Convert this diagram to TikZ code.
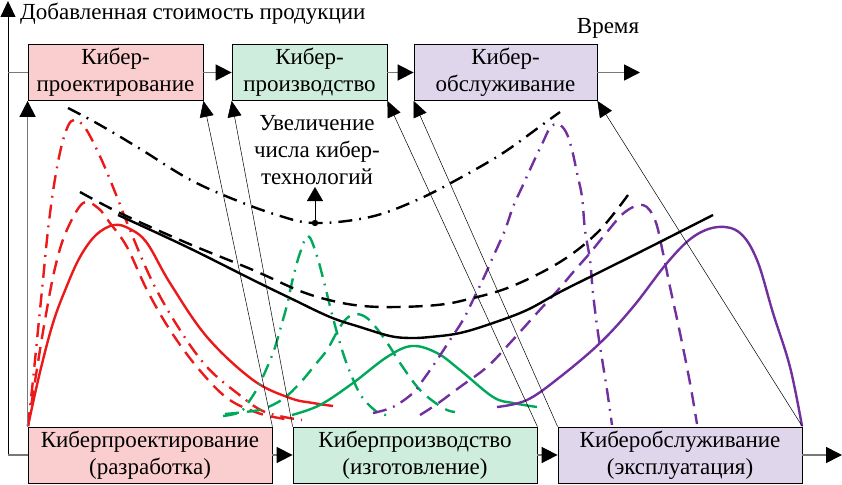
\documentclass[tikz,border=0pt]{standalone}
\usepackage{fontspec}
\setmainfont{Liberation Serif}
\newfontfamily\tnr{Liberation Serif}
\usetikzlibrary{arrows.meta}
\definecolor{cred}{RGB}{235,25,25}
\definecolor{cgreen}{RGB}{0,168,90}
\definecolor{cpurple}{RGB}{112,48,160}
\definecolor{fpink}{RGB}{250,206,206}
\definecolor{fgreen}{RGB}{206,237,221}
\definecolor{flav}{RGB}{223,214,236}
\definecolor{cgray}{RGB}{120,120,120}
\tikzset{
 box/.style={draw=black, line width=0.8pt, align=center, inner sep=0pt, minimum height=56pt, font=\tnr\fontsize{23}{27}\selectfont},
 txt/.style={inner sep=0pt, align=center, font=\tnr\fontsize{23}{27}\selectfont},
 graycon/.style={draw=cgray, line width=1.6pt},
 grayarrow/.style={graycon, -{Triangle[length=16pt,width=16pt,color=black,fill=black]}},
 slimarrow/.style={draw=black, line width=0.5pt, -{Triangle[length=16pt,width=14pt]}},
 crv/.style={line width=2.4pt, line join=round},
 dsh/.style={dash pattern=on 14pt off 8pt},
 dshdot/.style={dash pattern=on 14pt off 7pt on 1.8pt off 7pt},
}
\begin{document}
\begin{tikzpicture}[x=1pt,y=-1pt]
\useasboundingbox (0,0) rectangle (842,484);

% ---------- curves ----------
% red
\draw[crv,cred] plot[smooth,tension=0.6] coordinates {(28,426) (40,372) (53,323) (66,288) (80,257) (96,235) (114,225) (130,229) (147,243) (170,283) (207,337) (253,380) (290,398) (313,403) (333,406)};
\draw[crv,cred,dsh] plot[smooth,tension=0.6] coordinates {(28,426) (36,375) (45,320) (55,268) (66,232) (83,203) (98,208) (110,223) (127,247) (147,290) (170,330) (197,367) (227,398) (258,413) (285,419)};
\draw[crv,cred,dshdot] plot[smooth,tension=0.6] coordinates {(28,426) (33,380) (38,330) (43,280) (48,230) (54,185) (61,148) (68,126) (74,120) (82,124) (90,136) (103,163) (117,197) (130,230) (153,283) (180,330) (207,367) (237,393) (265,412) (302,420)};
% green
\draw[crv,cgreen] plot[smooth,tension=0.6] coordinates {(292,415) (320,405) (353,383) (387,357) (412,346) (437,353) (460,370) (493,397) (513,403) (537,407)};
\draw[crv,cgreen,dsh] plot[smooth,tension=0.6] coordinates {(225,414) (245,412) (263,409) (283,399) (300,383) (315,365) (327,350) (337,332) (346,319) (356,314) (367,318) (378,330) (390,347) (400,363) (420,390) (443,408) (455,412)};
\draw[crv,cgreen,dshdot] plot[smooth,tension=0.6] coordinates {(223,416) (240,412) (250,400) (260,383) (273,353) (280,330) (287,305) (293,278) (300,253) (308,236) (316,253) (323,278) (333,318) (343,353) (352,377) (362,397) (377,412) (387,415)};
% purple
\draw[crv,cpurple] plot[smooth,tension=0.6] coordinates {(497,407) (527,400) (560,377) (600,343) (633,307) (667,263) (693,237) (718,227) (740,233) (757,260) (773,313) (790,367) (802,426)};
\draw[crv,cpurple,dsh] plot[smooth,tension=0.6] coordinates {(420,415) (437,404) (460,387) (487,367) (510,343) (537,313) (558,290) (575,270) (590,253) (607,232) (625,212) (643,205) (655,220) (663,253) (670,287) (680,333) (690,383) (697,424)};
\draw[crv,cpurple,dshdot] plot[smooth,tension=0.6] coordinates {(373,413) (393,407) (413,393) (423,380) (437,360) (450,340) (463,320) (473,300) (485,275) (493,257) (505,230) (513,207) (523,185) (533,163) (543,142) (550,128) (558,124) (566,132) (572,150) (577,173) (582,197) (585,230) (590,260) (593,293) (598,333) (607,390) (612,425)};
% black
\draw[crv,black] plot[smooth,tension=0.6] coordinates {(118,215) (187,247) (253,280) (290,298) (330,317) (360,327) (390,336) (410,338) (430,337) (460,333) (493,323) (527,310) (560,292) (600,272) (650,247) (713,215)};
\draw[crv,black,dsh] plot[smooth,tension=0.6] coordinates {(80,192) (120,213) (187,243) (253,270) (300,291) (333,301) (363,306) (397,307) (437,305) (465,300) (510,287) (560,262) (598,232) (628,195)};
\draw[crv,black,dshdot] plot[smooth,tension=0.6] coordinates {(68,108) (100,125) (142,150) (187,178) (228,197) (277,215) (315,223) (370,217) (417,200) (460,178) (503,153) (542,125) (560,112)};

% ---------- boxes ----------
\node[box,fill=fpink,minimum width=175pt] (t1) at (115.5,72.5) {Кибер-\\проектирование};
\node[box,fill=fgreen,minimum width=155pt] (t2) at (309.5,72.5) {Кибер-\\производство};
\node[box,fill=flav,minimum width=183pt] (t3) at (505.5,72.5) {Кибер-\\обслуживание};
\node[box,fill=fpink,minimum width=244pt] (bA) at (150,455) {Киберпроектирование\\(разработка)};
\node[box,fill=fgreen,minimum width=244pt] (bB) at (415,455) {Киберпроизводство\\(изготовление)};
\node[box,fill=flav,minimum width=244pt] (bC) at (680,455) {Киберобслуживание\\(эксплуатация)};

% ---------- texts ----------
\node[txt,anchor=west] (ylab) at (20,14) {Добавленная стоимость продукции};
\node[txt] (tlab) at (608,28) {Время};
\node[txt] (incr) at (317,150) {Увеличение\\числа кибер-\\технологий};

% ---------- axes and connectors ----------
\coordinate (ax0) at (8,455);
\coordinate (axmid) at (8,72.5);
\coordinate (axtop) at (8,1);
\coordinate (tend) at (640,72.5);
\coordinate (bend) at (842,455);
\draw[black,line width=0.9pt,-{Triangle[length=16pt,width=15pt]}] (ax0) -- (axtop);
\draw[graycon] (axmid) -- (t1.west);
\draw[graycon] (ax0) -- (bA.west);
\draw[grayarrow] (bA.north west) -- (t1.south west);
\draw[grayarrow] (t1.east) -- (t2.west);
\draw[grayarrow] (t2.east) -- (t3.west);
\draw[grayarrow] (t3.east) -- (tend);
\draw[grayarrow] (bA.east) -- (bB.west);
\draw[grayarrow] (bB.east) -- (bC.west);
\draw[grayarrow] (bC.east) -- (bend);

\draw[slimarrow] (bA.north east) -- (t1.south east);
\draw[slimarrow] (bB.north west) -- (t2.south west);
\draw[slimarrow] (bB.north east) -- (t2.south east);
\draw[slimarrow] (bC.north west) -- (t3.south west);
\draw[slimarrow] (bC.north east) -- (t3.south east);

\fill[black] (315,223) circle (3.2pt) coordinate (dot);
\coordinate (dtip) at (315,187);
\draw[slimarrow,-{Triangle[length=14pt,width=16pt]}] (dot) -- (dtip);
\end{tikzpicture}
\end{document}
